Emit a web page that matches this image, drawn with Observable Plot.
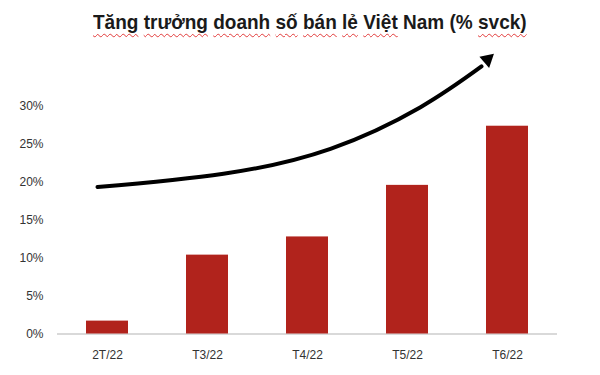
<!DOCTYPE html>
<html>
<head>
<meta charset="utf-8">
<script src="https://cdn.jsdelivr.net/npm/d3@7"></script>
<script src="https://cdn.jsdelivr.net/npm/@observablehq/plot@0.6"></script>
<style>
  html, body { margin: 0; padding: 0; background: #fff; }
  #wrap { width: 600px; height: 375px; position: relative; overflow: hidden; }
  #titlebox { height: 45px; box-sizing: border-box; padding-top: 11px; padding-left: 93px; }
  #title { display: inline-block; transform: scaleX(0.905); transform-origin: left center;
    font-family: "Liberation Sans", Arial, sans-serif; font-weight: bold;
    font-size: 21px; line-height: 21px; color: #1a1a1a; white-space: nowrap; }
  #title .w { text-decoration: underline wavy #e23b3b; text-decoration-thickness: 1px; text-underline-offset: 4px; }
  svg { display: block; }
</style>
</head>
<body>
<div id="wrap">
  <div id="titlebox"><span id="title"></span></div>
  <div id="chart"></div>
</div>
<script>
// ---- data ----
const categories = ["2T/22", "T3/22", "T4/22", "T5/22", "T6/22"];
const values = [1.7, 10.4, 12.8, 19.6, 27.4];
const yTicks = [0, 5, 10, 15, 20, 25, 30];
const titleWords = ["Tăng", "trưởng", "doanh", "số", "bán", "lẻ", "Việt", "Nam", "(%", "svck)"];
const titleUnderlined = [true, true, true, true, true, true, true, false, false, true];
// trend arrow path (x in category-index units, y in %)
const arrowX = [0.40, 1.66, 2.73, 3.63, 4.24];
const arrowY = [19.37, 21.13, 24.42, 29.91, 35.28];
const arrowHeadX = [4.30];
const arrowHeadY = [36.2];
const arrowHeadAngle = 49;

// ---- title ----
const titleEl = document.getElementById("title");
titleWords.forEach((w, i) => {
  const s = document.createElement("span");
  s.textContent = w;
  if (titleUnderlined[i]) s.className = "w";
  titleEl.appendChild(s);
  if (i < titleWords.length - 1) titleEl.appendChild(document.createTextNode(" "));
});

// ---- chart ----
const bars = categories.map((c, i) => ({c, i, v: values[i]}));
const arrowPts = arrowX.map((x, i) => ({x, y: arrowY[i]}));
const head = arrowHeadX.map((x, i) => ({x, y: arrowHeadY[i]}));

const chart = Plot.plot({
  width: 600,
  height: 330,
  marginLeft: 57,
  marginRight: 43,
  marginTop: 61,
  marginBottom: 41.5,
  style: {fontFamily: "'Liberation Sans', Arial, sans-serif", fontSize: "12px", color: "#333", background: "#fff"},
  x: {domain: [0, categories.length], axis: null},
  y: {domain: [0, 30], axis: null},
  marks: [
    Plot.ruleY([0], {stroke: "#d9d9d9", strokeWidth: 2}),
    Plot.rectY(bars, {x1: d => d.i + 0.29, x2: d => d.i + 0.71, y: "v", fill: "#b1231c"}),
    Plot.axisY(yTicks, {tickSize: 0, tickPadding: 14, tickFormat: d => d + "%", fontSize: 12, label: null}),
    Plot.axisX(categories.map((c, i) => i + 0.5), {tickSize: 0, tickPadding: 16, tickFormat: d => categories[Math.floor(d)], fontSize: 12, label: null}),
    Plot.line(arrowPts, {x: "x", y: "y", curve: "natural", stroke: "#000", strokeWidth: 4, clip: false}),
    Plot.dot(head, {x: "x", y: "y", symbol: "triangle", r: 5.5, fill: "#000", stroke: "none", rotate: arrowHeadAngle})
  ]
});
document.getElementById("chart").appendChild(chart);
</script>
</body>
</html>
